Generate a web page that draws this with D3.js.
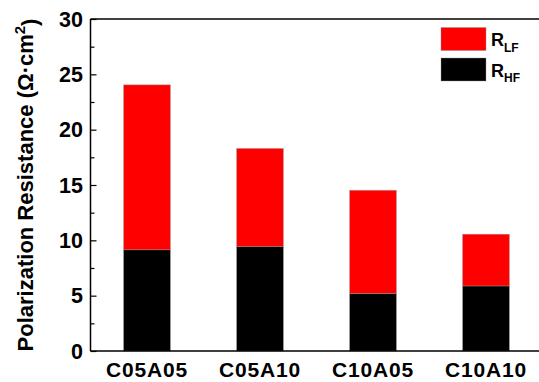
<!DOCTYPE html>
<html>
<head>
<meta charset="utf-8">
<script src="https://cdn.jsdelivr.net/npm/d3@7"></script>
<style>
  html, body { margin: 0; padding: 0; background: #fff; }
  svg { display: block; }
  text { font-family: "Liberation Sans", Arial, sans-serif; font-weight: bold; fill: #000; }
</style>
</head>
<body>
<svg id="chart" width="539" height="382"></svg>
<script>
const categories = ["C05A05", "C05A10", "C10A05", "C10A10"];
const rHF = [9.15, 9.45, 5.2, 5.88];
const rLF = [14.9, 8.85, 9.32, 4.67];
const yTicks = [0, 5, 10, 15, 20, 25, 30];
const seriesNames = ["R_LF", "R_HF"];
const seriesColors = ["#ff0000", "#000000"];

const svg = d3.select("#chart");
const pLeft = 90.5, pRight = 542.5, pTop = 19, pBottom = 351;

const x = d3.scaleLinear().domain([0.5, categories.length + 0.5]).range([pLeft, pRight]);
const y = d3.scaleLinear().domain([0, 30]).range([pBottom, pTop]);
const barHalf = 0.207;

const stackData = categories.map((c, i) => ({ cat: c, idx: i + 1, HF: rHF[i], LF: rLF[i] }));
const layers = d3.stack().keys(["HF", "LF"])(stackData);
const layerColor = { HF: seriesColors[1], LF: seriesColors[0] };

svg.append("g").selectAll("g").data(layers).join("g")
  .attr("fill", d => layerColor[d.key])
  .selectAll("rect").data(d => d).join("rect")
  .attr("x", d => x(d.data.idx - barHalf))
  .attr("width", d => x(d.data.idx + barHalf) - x(d.data.idx - barHalf))
  .attr("y", d => y(d[1]))
  .attr("height", d => y(d[0]) - y(d[1]))
  .attr("stroke", "rgba(150,150,150,0.5)")
  .attr("stroke-width", 0.8);

svg.append("line").attr("x1", pLeft).attr("x2", pRight).attr("y1", pTop).attr("y2", pTop)
  .attr("stroke", "#000").attr("stroke-width", 1.5);

const yg = svg.append("g").attr("transform", `translate(${pLeft},0)`)
  .call(d3.axisRight(y).tickValues(yTicks).tickSize(6).tickFormat(""));
yg.select(".domain").remove();
yg.selectAll(".tick line").attr("stroke", "#000").attr("stroke-width", 1.2);
const minorTicks = d3.range(2.5, 30, 5);
const ygm = svg.append("g").attr("transform", `translate(${pLeft},0)`)
  .call(d3.axisRight(y).tickValues(minorTicks).tickSize(4).tickFormat(""));
ygm.select(".domain").remove();
ygm.selectAll(".tick line").attr("stroke", "#000").attr("stroke-width", 1.2);

svg.append("line").attr("x1", pLeft).attr("x2", pLeft).attr("y1", pTop).attr("y2", pBottom)
  .attr("stroke", "#000").attr("stroke-width", 1.5);
svg.append("line").attr("x1", pLeft).attr("x2", pRight).attr("y1", pBottom).attr("y2", pBottom)
  .attr("stroke", "#000").attr("stroke-width", 1.5);

svg.append("g").selectAll("text").data(yTicks).join("text")
  .attr("x", 83).attr("y", d => y(d)).attr("dy", "0.36em")
  .attr("text-anchor", "end").style("font-size", "21.5px")
  .text(d => d);

svg.append("g").selectAll("text").data(categories).join("text")
  .attr("x", (d, i) => x(i + 1)).attr("y", 376.5)
  .attr("text-anchor", "middle").style("font-size", "21px")
  .style("letter-spacing", "0.8px")
  .text(d => d);

const yt = svg.append("text")
  .attr("transform", `translate(33,${(pTop + pBottom) / 2}) rotate(-90)`)
  .attr("text-anchor", "middle").style("font-size", "22px");
yt.append("tspan").text("Polarization Resistance (Ω·cm");
yt.append("tspan").attr("dy", "-0.55em").style("font-size", "15px").text("2");
yt.append("tspan").attr("dy", "0.55em").text(")");

const lg = svg.append("g");
const legendItems = [
  { name: seriesNames[0], color: seriesColors[0], y0: 27.5 },
  { name: seriesNames[1], color: seriesColors[1], y0: 58 }
];
legendItems.forEach(it => {
  lg.append("rect").attr("x", 441).attr("y", it.y0).attr("width", 45).attr("height", 23)
    .attr("fill", it.color).attr("stroke", "rgba(150,150,150,0.5)").attr("stroke-width", 0.8);
  const parts = it.name.split("_");
  const t = lg.append("text").attr("x", 491).attr("y", it.y0 + 18.5).style("font-size", "18px");
  t.append("tspan").text(parts[0]);
  t.append("tspan").attr("dy", "5.5").style("font-size", "12px").text(parts[1]);
});
</script>
</body>
</html>
